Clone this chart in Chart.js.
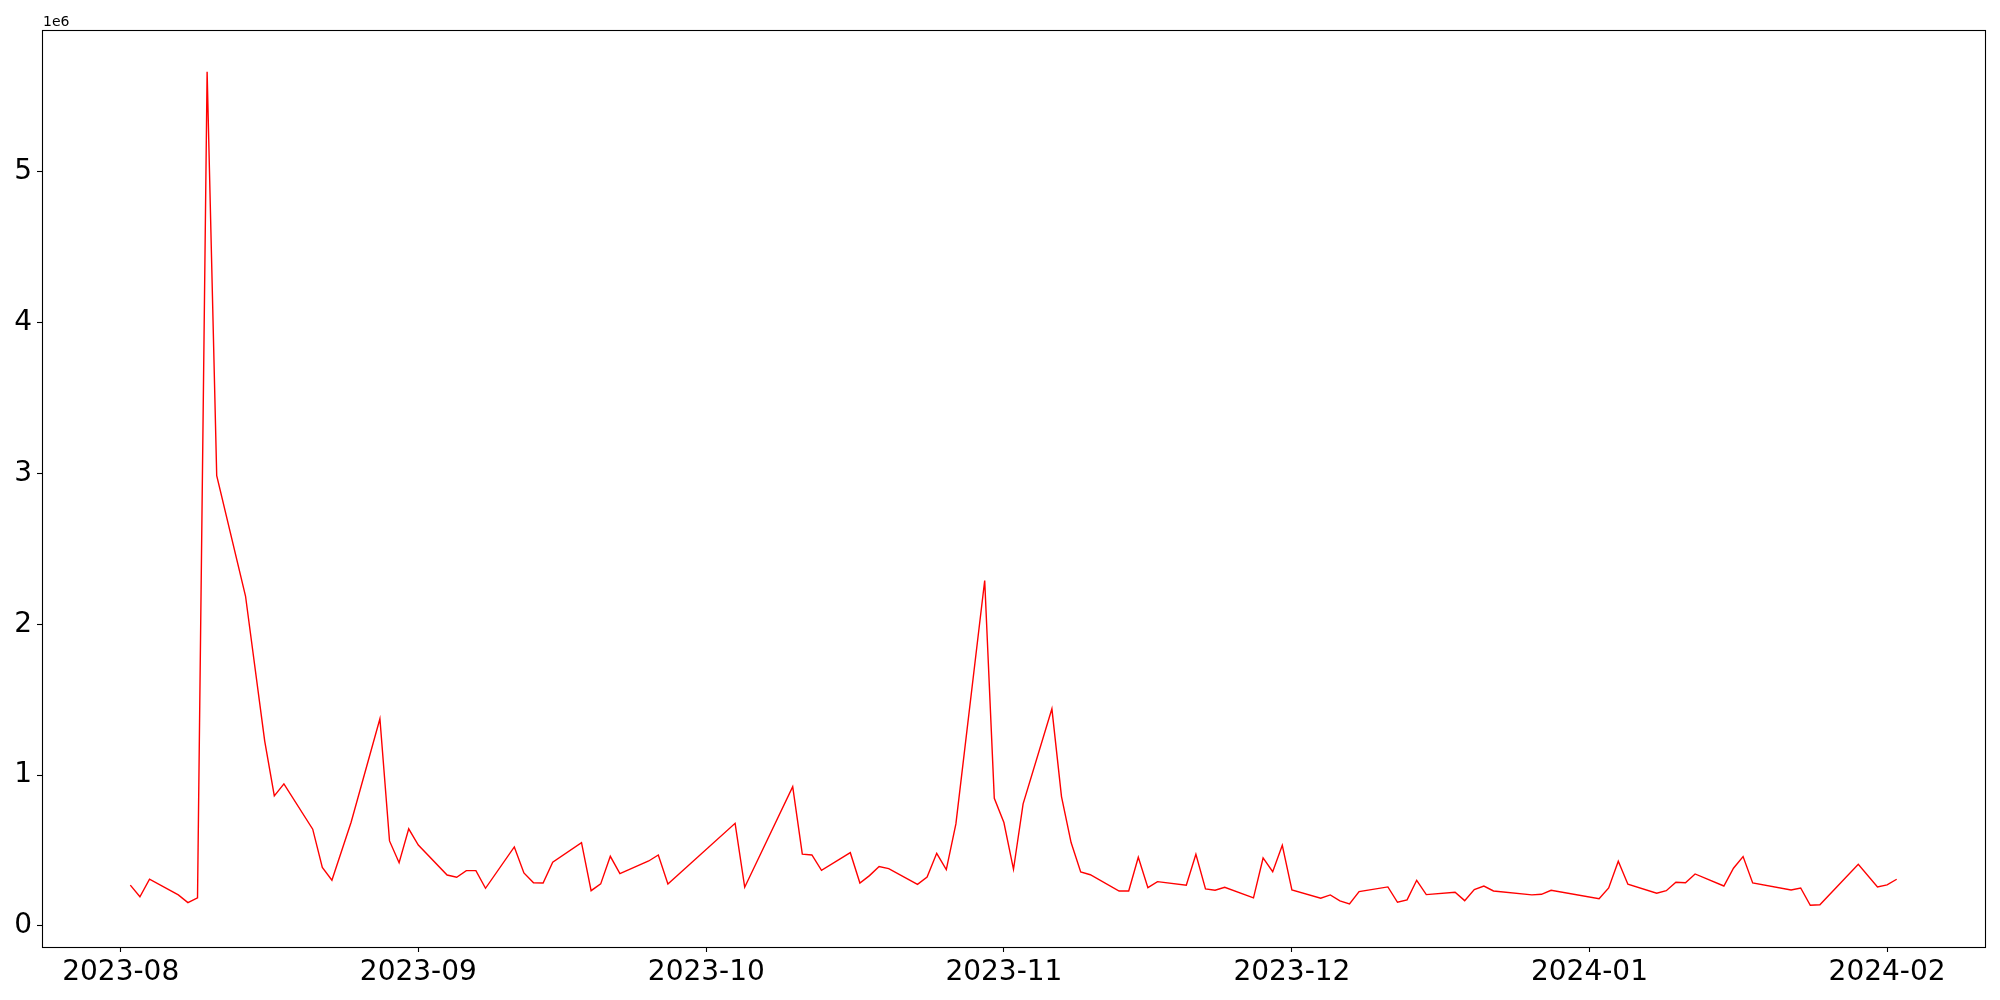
<!DOCTYPE html>
<html>
<head>
<meta charset="utf-8">
<script src="https://cdn.jsdelivr.net/npm/chart.js@4.4.1/dist/chart.umd.min.js"></script>
<style>
  body { margin: 0; background: #fff; }
  #wrap { width: 2000px; height: 1000px; }
</style>
</head>
<body>
<div id="wrap"><canvas id="grafico" width="2000" height="1000"></canvas></div>
<script>
// fechas (dias habiles) y valores
const fechas = [
  '2023-08-02','2023-08-03','2023-08-04','2023-08-07','2023-08-08','2023-08-09','2023-08-10','2023-08-11',
  '2023-08-14','2023-08-16','2023-08-17','2023-08-18','2023-08-21','2023-08-22','2023-08-23','2023-08-25',
  '2023-08-28','2023-08-29','2023-08-30','2023-08-31','2023-09-01','2023-09-04','2023-09-05','2023-09-06',
  '2023-09-07','2023-09-08','2023-09-11','2023-09-12','2023-09-13','2023-09-14','2023-09-15','2023-09-18',
  '2023-09-19','2023-09-20','2023-09-21','2023-09-22','2023-09-25','2023-09-26','2023-09-27','2023-10-04',
  '2023-10-05','2023-10-10','2023-10-11','2023-10-12','2023-10-13','2023-10-16','2023-10-17','2023-10-18',
  '2023-10-19','2023-10-20','2023-10-23','2023-10-24','2023-10-25','2023-10-26','2023-10-27','2023-10-30',
  '2023-10-31','2023-11-01','2023-11-02','2023-11-03','2023-11-06','2023-11-07','2023-11-08','2023-11-09',
  '2023-11-10','2023-11-13','2023-11-14','2023-11-15','2023-11-16','2023-11-17','2023-11-20','2023-11-21',
  '2023-11-22','2023-11-23','2023-11-24','2023-11-27','2023-11-28','2023-11-29','2023-11-30','2023-12-01',
  '2023-12-04','2023-12-05','2023-12-06','2023-12-07','2023-12-08','2023-12-11','2023-12-12','2023-12-13',
  '2023-12-14','2023-12-15','2023-12-18','2023-12-19','2023-12-20','2023-12-21','2023-12-22','2023-12-26',
  '2023-12-27','2023-12-28','2024-01-02','2024-01-03','2024-01-04','2024-01-05','2024-01-08','2024-01-09',
  '2024-01-10','2024-01-11','2024-01-12','2024-01-15','2024-01-16','2024-01-17','2024-01-18','2024-01-22',
  '2024-01-23','2024-01-24','2024-01-25','2024-01-29','2024-01-31','2024-02-01','2024-02-02'
];

const valores = [
  271000, 194000, 311000, 206000, 155000, 186000, 5665000, 2986000,
  2188000, 1226000, 863000, 942000, 642000, 388000, 303000, 688000,
  1374000, 564000, 419000, 644000, 537000, 338000, 323000, 367000,
  367000, 250000, 524000, 352000, 287000, 285000, 423000, 553000,
  234000, 279000, 462000, 347000, 431000, 471000, 279000, 681000,
  257000, 924000, 476000, 471000, 369000, 486000, 285000, 334000,
  394000, 380000, 276000, 325000, 482000, 374000, 677000, 2291000,
  847000, 686000, 376000, 810000, 1440000, 858000, 553000, 358000,
  340000, 232000, 232000, 456000, 254000, 294000, 270000, 476000,
  246000, 237000, 257000, 186000, 451000, 360000, 535000, 239000,
  184000, 206000, 166000, 146000, 228000, 259000, 157000, 173000,
  303000, 208000, 224000, 168000, 241000, 265000, 232000, 206000,
  210000, 237000, 181000, 252000, 429000, 277000, 217000, 234000,
  290000, 287000, 345000, 265000, 383000, 460000, 285000, 239000,
  252000, 137000, 141000, 409000, 259000, 272000, 310000
];

// marcas de los ejes
const ticksX = ['2023-08-01','2023-09-01','2023-10-01','2023-11-01','2023-12-01','2024-01-01','2024-02-01'];
const ticksY = [0, 1000000, 2000000, 3000000, 4000000, 5000000];
const textoOffset = '1e6';

function aMs(f) {
  const p = f.split('-');
  return Date.UTC(+p[0], +p[1] - 1, +p[2]);
}

function etiquetaMes(ms) {
  const d = new Date(ms);
  const m = d.getUTCMonth() + 1;
  return d.getUTCFullYear() + '-' + (m < 10 ? '0' + m : m);
}

// margen de 5% como matplotlib
function limites(arr) {
  const mn = Math.min.apply(null, arr), mx = Math.max.apply(null, arr);
  const m = (mx - mn) * 0.05;
  return { min: mn - m, max: mx + m };
}

const puntos = fechas.map(function(f, i) { return { x: aMs(f), y: valores[i] }; });
const limX = limites(puntos.map(function(p) { return p.x; }));
const limY = limites(valores);

// marco completo y texto 1e6
const marco = {
  id: 'marco',
  afterDraw: function(chart) {
    const a = chart.chartArea, ctx = chart.ctx;
    ctx.save();
    ctx.strokeStyle = '#000';
    ctx.lineWidth = 1.1;
    ctx.strokeRect(Math.round(a.left) + 0.5, Math.round(a.top) + 0.5,
      Math.round(a.right - a.left), Math.round(a.bottom - a.top));
    ctx.fillStyle = '#000';
    ctx.font = '14px "DejaVu Sans"';
    ctx.textAlign = 'left';
    ctx.textBaseline = 'alphabetic';
    ctx.fillText(textoOffset, a.left + 1, a.top - 4);
    ctx.restore();
  }
};

Chart.defaults.font.family = '"DejaVu Sans", sans-serif';
Chart.defaults.color = '#000';

const ctx = document.getElementById('grafico').getContext('2d');
new Chart(ctx, {
  type: 'line',
  data: {
    datasets: [{
      data: puntos,
      borderColor: '#ff0000',
      borderWidth: 1.4,
      pointRadius: 0,
      tension: 0,
      fill: false
    }]
  },
  options: {
    responsive: false,
    animation: false,
    devicePixelRatio: 1,
    layout: { padding: { left: 0, right: 15, top: 30, bottom: 0 } },
    plugins: { legend: { display: false }, tooltip: { enabled: false } },
    scales: {
      x: {
        type: 'linear',
        min: limX.min,
        max: limX.max,
        afterBuildTicks: function(s) { s.ticks = ticksX.map(function(f) { return { value: aMs(f) }; }); },
        afterFit: function(s) { s.height = 53; },
        ticks: {
          autoSkip: false,
          maxRotation: 0,
          padding: 4,
          font: { size: 28 },
          callback: function(v) { return etiquetaMes(v); }
        },
        grid: { drawOnChartArea: false, drawTicks: true, tickLength: 5, color: '#000', tickWidth: 1.1 },
        border: { display: false }
      },
      y: {
        min: limY.min,
        max: limY.max,
        afterBuildTicks: function(s) { s.ticks = ticksY.map(function(v) { return { value: v }; }); },
        afterFit: function(s) { s.width = 42; },
        ticks: {
          padding: 5,
          font: { size: 28 },
          callback: function(v) { return String(v / 1000000); }
        },
        grid: { drawOnChartArea: false, drawTicks: true, tickLength: 5, color: '#000', tickWidth: 1.1 },
        border: { display: false }
      }
    }
  },
  plugins: [marco]
});
</script>
</body>
</html>
